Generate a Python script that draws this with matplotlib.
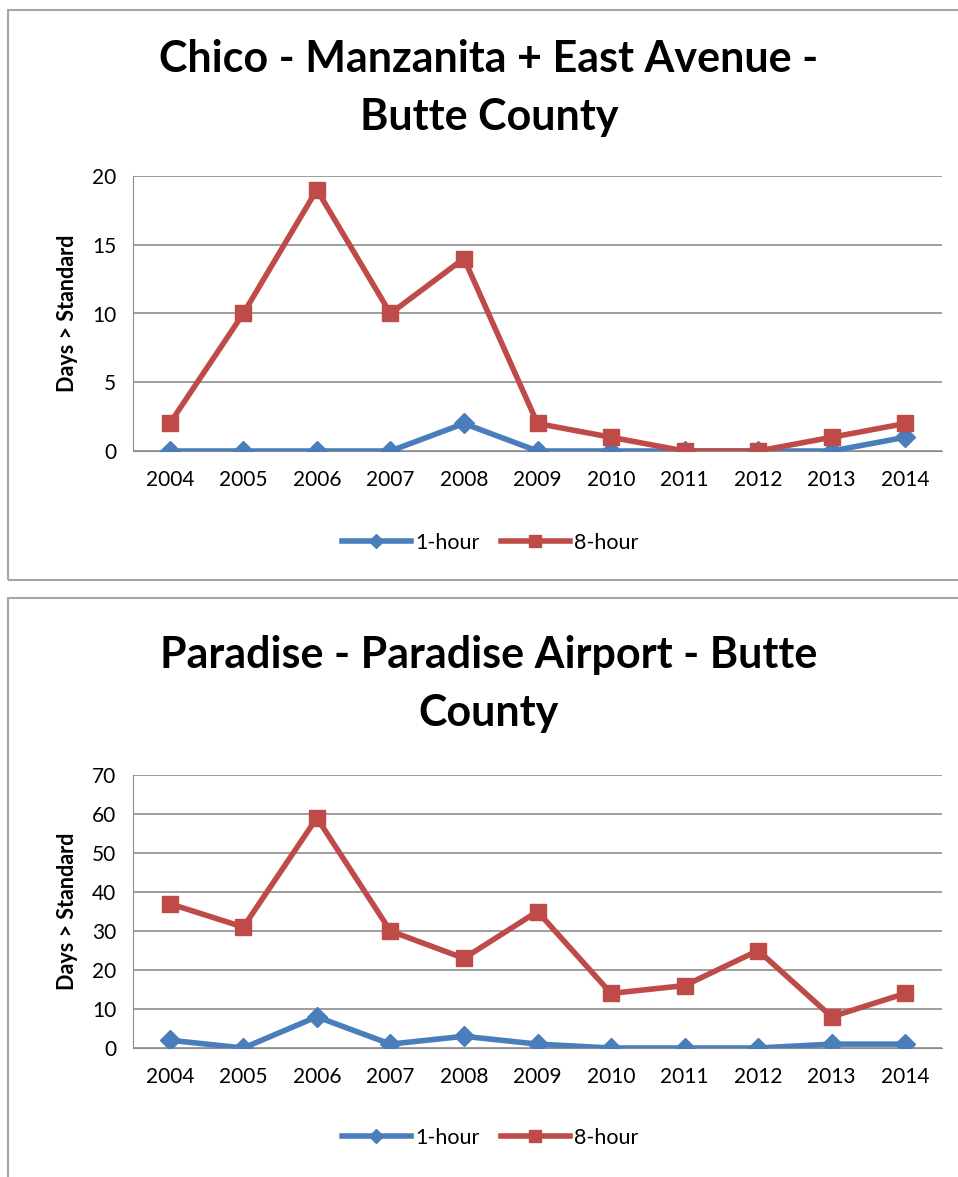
import matplotlib
matplotlib.use("Agg")
import matplotlib.pyplot as plt
from matplotlib.patches import Rectangle

years = ["2004", "2005", "2006", "2007", "2008", "2009", "2010", "2011", "2012", "2013", "2014"]
chico_1h = [0, 0, 0, 0, 2, 0, 0, 0, 0, 0, 1]
chico_8h = [2, 10, 19, 10, 14, 2, 1, 0, 0, 1, 2]
paradise_1h = [2, 0, 8, 1, 3, 1, 0, 0, 0, 1, 1]
paradise_8h = [37, 31, 59, 30, 23, 35, 14, 16, 25, 8, 14]

titles = ["Chico - Manzanita + East Avenue -\nButte County",
          "Paradise - Paradise Airport - Butte\nCounty"]
ylims = [(0, 20, 5), (0, 70, 10)]

plt.rcParams['font.family'] = ['Lato', 'DejaVu Sans']

W, H = 958, 1177
fig = plt.figure(figsize=(W / 100, H / 100), dpi=100)

def fx(px):
    return px / W

def fy(py):
    return 1 - py / H

# panel borders
for (top, bot) in [(10, 580), (598, 1180)]:
    fig.patches.append(Rectangle((fx(8), fy(bot)), fx(960) - fx(8), fy(top) - fy(bot),
                                 transform=fig.transFigure, fill=False,
                                 edgecolor="#a6a6a6", linewidth=1.5))

panels = [
    dict(data=(chico_1h, chico_8h), top=176, bottom=451, title_y=88, leg_y=543),
    dict(data=(paradise_1h, paradise_8h), top=775, bottom=1048, title_y=684, leg_y=1138),
]

blue = "#4a7ebb"
red = "#be4b48"

for i, p in enumerate(panels):
    left, right = 133, 942
    ax = fig.add_axes([fx(left), fy(p["bottom"]), fx(right) - fx(left), fy(p["top"]) - fy(p["bottom"])])
    x = list(range(len(years)))
    h1, h8 = p["data"]
    l1, = ax.plot(x, h1, color=blue, linewidth=4, marker="D", markersize=10,
                  markerfacecolor=blue, markeredgecolor=blue, label="1-hour", zorder=3)
    l8, = ax.plot(x, h8, color=red, linewidth=4, marker="s", markersize=12,
                  markerfacecolor=red, markeredgecolor=red, label="8-hour", zorder=3)
    lo, hi, step = ylims[i]
    ax.set_ylim(lo, hi)
    ax.set_yticks(list(range(lo, hi + 1, step)))
    ax.set_xlim(-0.5, len(years) - 0.5)
    ax.set_xticks(x)
    ax.set_xticklabels(years)
    ax.yaxis.grid(True, color="#8c8c8c", linewidth=1.2)
    ax.set_axisbelow(True)
    for s in ["top", "right"]:
        ax.spines[s].set_visible(False)
    ax.spines["left"].set_color("#8c8c8c")
    ax.spines["bottom"].set_color("#8c8c8c")
    ax.tick_params(axis="y", length=0, labelsize=15, pad=12)
    ax.tick_params(axis="x", length=0, labelsize=15, pad=14)
    ax.set_ylabel("Days > Standard", fontsize=15.5, fontweight="bold", labelpad=10)
    fig.text(fx(489), fy(p["title_y"]), titles[i], ha="center", va="center",
             fontsize=31, fontweight="bold", linespacing=1.55)
    fig.legend(handles=[l1, l8], loc="center", bbox_to_anchor=(fx(490), fy(p["leg_y"])),
               ncol=2, frameon=False, fontsize=15.5, handlelength=3.2, columnspacing=1.0,
               handletextpad=0.2, markerscale=0.75)

fig.savefig("out.png", dpi=100)
